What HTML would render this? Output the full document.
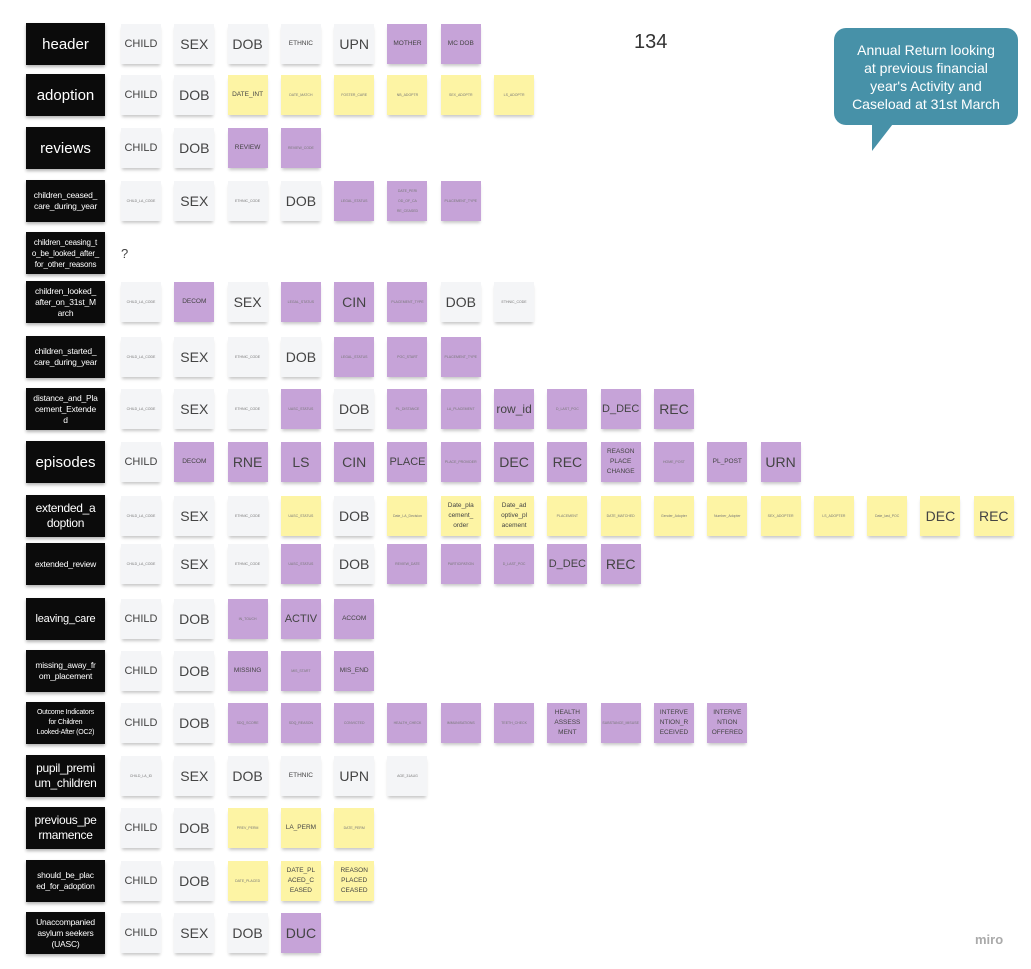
<!DOCTYPE html>
<html><head><meta charset="utf-8"><style>
body{margin:0;width:1031px;height:969px;background:#fff;position:relative;overflow:hidden;font-family:"Liberation Sans","DejaVu Sans",sans-serif;}
.r{position:absolute;left:26px;height:42px;display:flex;align-items:center;}
.lb{width:79px;height:42px;background:#0b0b0b;color:#fff;display:flex;align-items:center;justify-content:center;text-align:center;font-size:8.5px;line-height:11px;margin-right:16px;box-shadow:0 2px 3px rgba(0,0,0,.3);white-space:nowrap;letter-spacing:-0.2px;}
.lb.b{font-size:15px;line-height:17px;letter-spacing:0}
.lb.m{font-size:12px;line-height:15px;letter-spacing:-0.3px}
.n{width:40px;height:40px;margin-right:13.3px;display:flex;align-items:center;justify-content:center;text-align:center;color:#444;font-size:7px;line-height:10px;box-shadow:0 3px 3px -1px rgba(0,0,0,.22);flex:none;overflow:hidden;white-space:nowrap;}
.w{background:#f4f5f7;}.p{background:#c6a3d8;}.y{background:#fdf4a4;}
.L{font-size:14px;}.M{font-size:11px;}.S{font-size:6.5px;}.X{font-size:3.5px;color:#777;}
</style></head><body>
<div style="position:absolute;left:634px;top:31px;font-size:20px;color:#333">134</div>
<div style="position:absolute;left:834px;top:28px;width:184px;height:97px;background:#4791a8;border-radius:12px;color:#fff;font-size:14px;line-height:18px;text-align:center;display:flex;align-items:center;justify-content:center">Annual Return looking<br>at previous financial<br>year's Activity and<br>Caseload at 31st March</div>
<svg style="position:absolute;left:870px;top:120px" width="30" height="32"><polygon points="2,0 26,0 2,31" fill="#4791a8"/></svg>
<div style="position:absolute;left:975px;top:932px;font-size:13px;color:#aaa;font-weight:bold">miro</div>

<div class="r" style="top:23px"><div class="lb b">header</div><div class="n w M">CHILD</div><div class="n w L">SEX</div><div class="n w L">DOB</div><div class="n w S">ETHNIC</div><div class="n w L">UPN</div><div class="n p S">MOTHER</div><div class="n p S">MC DOB</div></div>
<div class="r" style="top:74px"><div class="lb b">adoption</div><div class="n w M">CHILD</div><div class="n w L">DOB</div><div class="n y S">DATE_INT</div><div class="n y X">DATE_MATCH</div><div class="n y X">FOSTER_CARE</div><div class="n y X">NB_ADOPTR</div><div class="n y X">SEX_ADOPTR</div><div class="n y X">LS_ADOPTR</div></div>
<div class="r" style="top:127px"><div class="lb b">reviews</div><div class="n w M">CHILD</div><div class="n w L">DOB</div><div class="n p S">REVIEW</div><div class="n p X">REVIEW_CODE</div></div>
<div class="r" style="top:180px"><div class="lb">children_ceased_<br>care_during_year</div><div class="n w X">CHILD_LA_CODE</div><div class="n w L">SEX</div><div class="n w X">ETHNIC_CODE</div><div class="n w L">DOB</div><div class="n p X">LEGAL_STATUS</div><div class="n p X">DATE_PERI<br>OD_OF_CA<br>RE_CEASED</div><div class="n p X">PLACEMENT_TYPE</div></div>
<div class="r" style="top:232px"><div class="lb" style="font-size:8px">children_ceasing_t<br>o_be_looked_after_<br>for_other_reasons</div><div style="font-size:13px;color:#444">?</div></div>
<div class="r" style="top:281px"><div class="lb">children_looked_<br>after_on_31st_M<br>arch</div><div class="n w X">CHILD_LA_CODE</div><div class="n p S">DECOM</div><div class="n w L">SEX</div><div class="n p X">LEGAL_STATUS</div><div class="n p L">CIN</div><div class="n p X">PLACEMENT_TYPE</div><div class="n w L">DOB</div><div class="n w X">ETHNIC_CODE</div></div>
<div class="r" style="top:336px"><div class="lb">children_started_<br>care_during_year</div><div class="n w X">CHILD_LA_CODE</div><div class="n w L">SEX</div><div class="n w X">ETHNIC_CODE</div><div class="n w L">DOB</div><div class="n p X">LEGAL_STATUS</div><div class="n p X">POC_START</div><div class="n p X">PLACEMENT_TYPE</div></div>
<div class="r" style="top:388px"><div class="lb">distance_and_Pla<br>cement_Extende<br>d</div><div class="n w X">CHILD_LA_CODE</div><div class="n w L">SEX</div><div class="n w X">ETHNIC_CODE</div><div class="n p X">UASC_STATUS</div><div class="n w L">DOB</div><div class="n p X">PL_DISTANCE</div><div class="n p X">LA_PLACEMENT</div><div class="n p" style="font-size:12px">row_id</div><div class="n p X">D_LAST_POC</div><div class="n p M">D_DEC</div><div class="n p L">REC</div></div>
<div class="r" style="top:441px"><div class="lb b">episodes</div><div class="n w M">CHILD</div><div class="n p S">DECOM</div><div class="n p L">RNE</div><div class="n p L">LS</div><div class="n p L">CIN</div><div class="n p M">PLACE</div><div class="n p X">PLACE_PROVIDER</div><div class="n p L">DEC</div><div class="n p L">REC</div><div class="n p S">REASON<br>PLACE<br>CHANGE</div><div class="n p X">HOME_POST</div><div class="n p S">PL_POST</div><div class="n p L">URN</div></div>
<div class="r" style="top:495px"><div class="lb m">extended_a<br>doption</div><div class="n w X">CHILD_LA_CODE</div><div class="n w L">SEX</div><div class="n w X">ETHNIC_CODE</div><div class="n y X">UASC_STATUS</div><div class="n w L">DOB</div><div class="n y X">Date_LA_Decision</div><div class="n y S">Date_pla<br>cement_<br>order</div><div class="n y S">Date_ad<br>optive_pl<br>acement</div><div class="n y X">PLACEMENT</div><div class="n y X">DATE_MATCHED</div><div class="n y X">Gender_Adopter</div><div class="n y X">Number_Adopter</div><div class="n y X">SEX_ADOPTER</div><div class="n y X">LS_ADOPTER</div><div class="n y X">Date_last_POC</div><div class="n y L">DEC</div><div class="n y L">REC</div></div>
<div class="r" style="top:543px"><div class="lb">extended_review</div><div class="n w X">CHILD_LA_CODE</div><div class="n w L">SEX</div><div class="n w X">ETHNIC_CODE</div><div class="n p X">UASC_STATUS</div><div class="n w L">DOB</div><div class="n p X">REVIEW_DATE</div><div class="n p X">PARTICIPATION</div><div class="n p X">D_LAST_POC</div><div class="n p M">D_DEC</div><div class="n p L">REC</div></div>
<div class="r" style="top:598px"><div class="lb" style="font-size:11px">leaving_care</div><div class="n w M">CHILD</div><div class="n w L">DOB</div><div class="n p X">IN_TOUCH</div><div class="n p M">ACTIV</div><div class="n p S">ACCOM</div></div>
<div class="r" style="top:650px"><div class="lb">missing_away_fr<br>om_placement</div><div class="n w M">CHILD</div><div class="n w L">DOB</div><div class="n p S">MISSING</div><div class="n p X">MIS_START</div><div class="n p S">MIS_END</div></div>
<div class="r" style="top:702px"><div class="lb" style="font-size:7px;line-height:10px">Outcome Indicators<br>for Children<br>Looked-After (OC2)</div><div class="n w M">CHILD</div><div class="n w L">DOB</div><div class="n p X">SDQ_SCORE</div><div class="n p X">SDQ_REASON</div><div class="n p X">CONVICTED</div><div class="n p X">HEALTH_CHECK</div><div class="n p X">IMMUNISATIONS</div><div class="n p X">TEETH_CHECK</div><div class="n p S">HEALTH<br>ASSESS<br>MENT</div><div class="n p X">SUBSTANCE_MISUSE</div><div class="n p S">INTERVE<br>NTION_R<br>ECEIVED</div><div class="n p S">INTERVE<br>NTION<br>OFFERED</div></div>
<div class="r" style="top:755px"><div class="lb m">pupil_premi<br>um_children</div><div class="n w X">CHILD_LA_ID</div><div class="n w L">SEX</div><div class="n w L">DOB</div><div class="n w S">ETHNIC</div><div class="n w L">UPN</div><div class="n w X">AGE_31AUG</div></div>
<div class="r" style="top:807px"><div class="lb m">previous_pe<br>rmamence</div><div class="n w M">CHILD</div><div class="n w L">DOB</div><div class="n y X">PREV_PERM</div><div class="n y S">LA_PERM</div><div class="n y X">DATE_PERM</div></div>
<div class="r" style="top:860px"><div class="lb">should_be_plac<br>ed_for_adoption</div><div class="n w M">CHILD</div><div class="n w L">DOB</div><div class="n y X">DATE_PLACED</div><div class="n y S">DATE_PL<br>ACED_C<br>EASED</div><div class="n y S">REASON<br>PLACED<br>CEASED</div></div>
<div class="r" style="top:912px"><div class="lb" style="font-size:8.5px">Unaccompanied<br>asylum seekers<br>(UASC)</div><div class="n w M">CHILD</div><div class="n w L">SEX</div><div class="n w L">DOB</div><div class="n p L">DUC</div></div>
</body></html>
